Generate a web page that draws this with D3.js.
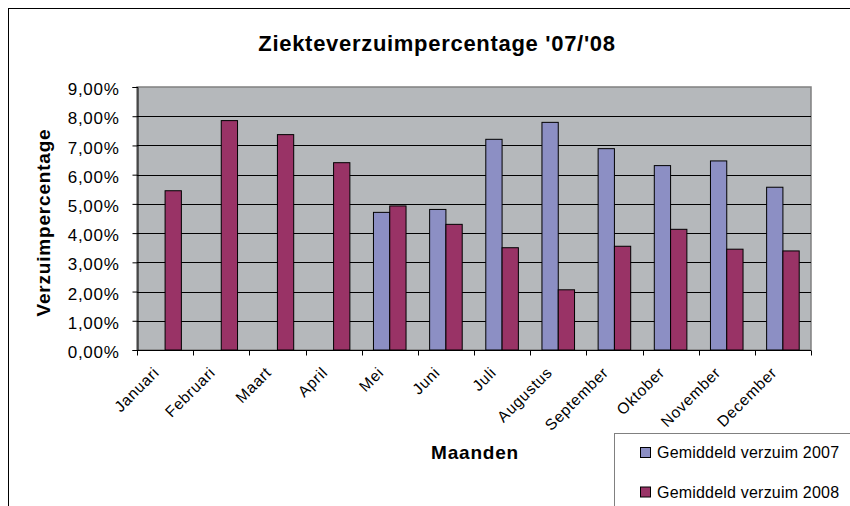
<!DOCTYPE html>
<html>
<head>
<meta charset="utf-8">
<script src="https://cdn.jsdelivr.net/npm/d3@7"></script>
<style>
  body { margin: 0; background: #fff; }
  text { font-family: "Liberation Sans", Arial, sans-serif; }
</style>
</head>
<body>
<div class="chart"></div>
<script>
var months = ["Januari", "Februari", "Maart", "April", "Mei", "Juni", "Juli", "Augustus", "September", "Oktober", "November", "December"];
var series = ["Gemiddeld verzuim 2007", "Gemiddeld verzuim 2008"];
var values2007 = [null, null, null, null, 4.71, 4.81, 7.21, 7.79, 6.89, 6.31, 6.47, 5.57];
var values2008 = [5.45, 7.85, 7.37, 6.41, 4.93, 4.30, 3.50, 2.06, 3.55, 4.13, 3.45, 3.39];
var yTicks = [0, 1, 2, 3, 4, 5, 6, 7, 8, 9];
var colors = ["#8c8fc4", "#993366"];

var width = 850, height = 506;
var plot = { left: 137, top: 87, right: 811, bottom: 350 };

var svg = d3.select(".chart").append("svg")
    .attr("width", width)
    .attr("height", height);

// chart frame (runs off the right / bottom like the screenshot)
svg.append("rect")
    .attr("x", 8.5).attr("y", 8.5)
    .attr("width", 860).attr("height", 520)
    .attr("fill", "#fff")
    .attr("stroke", "#000");

var x0 = d3.scaleBand()
    .domain(months)
    .range([plot.left, plot.right])
    .paddingInner(0.42)
    .paddingOuter(0.21);

var x1 = d3.scaleBand()
    .domain([0, 1])
    .range([0, x0.bandwidth()]);

var y = d3.scaleLinear()
    .domain([0, 9])
    .range([plot.bottom, plot.top]);

// plot area
svg.append("rect")
    .attr("x", plot.left).attr("y", plot.top)
    .attr("width", plot.right - plot.left)
    .attr("height", plot.bottom - plot.top)
    .attr("fill", "#b5b8bb")
    .attr("stroke", "#808080")
    .attr("stroke-width", 1.5);

// gridlines
svg.append("g").selectAll("line")
    .data(yTicks.filter(d => d > 0 && d < 9))
    .enter().append("line")
    .attr("x1", plot.left).attr("x2", plot.right)
    .attr("y1", d => Math.round(y(d)) + 0.5)
    .attr("y2", d => Math.round(y(d)) + 0.5)
    .attr("stroke", "#000")
    .attr("stroke-width", 1);

// bars
var rows = months.map((m, i) => ({ month: m, vals: [values2007[i], values2008[i]] }));

svg.append("g").selectAll("g")
    .data(rows)
    .enter().append("g")
    .attr("transform", d => "translate(" + x0(d.month) + ",0)")
    .selectAll("rect")
    .data(d => d.vals.map((v, k) => ({ k: k, v: v })).filter(d => d.v != null))
    .enter().append("rect")
    .attr("x", d => x1(d.k))
    .attr("y", d => y(d.v))
    .attr("width", x1.bandwidth())
    .attr("height", d => y(0) - y(d.v))
    .attr("fill", d => colors[d.k])
    .attr("stroke", "#000")
    .attr("stroke-width", 1);

// y axis
var yAxis = svg.append("g")
    .attr("transform", "translate(" + (plot.left + 0.5) + ",0)")
    .call(d3.axisLeft(y).tickValues(yTicks).tickSize(5).tickPadding(13)
        .tickFormat(d => d3.format(".2f")(d).replace(".", ",") + "%"));
yAxis.select(".domain").attr("stroke", "#000");
yAxis.selectAll("line").attr("stroke", "#000");
yAxis.selectAll("text")
    .attr("font-size", "17px")
    .attr("letter-spacing", "0.7px")
    .attr("dy", "0.45em")
    .attr("fill", "#000")
    .attr("font-family", "Liberation Sans, Arial, sans-serif");

// x axis
var xAxis = svg.append("g")
    .attr("transform", "translate(0," + (plot.bottom + 0.5) + ")");
xAxis.append("line")
    .attr("x1", plot.left).attr("x2", plot.right)
    .attr("stroke", "#000");
xAxis.selectAll(".tick")
    .data(d3.range(months.length + 1))
    .enter().append("line")
    .attr("x1", i => Math.round(plot.left + i * x0.step()) + 0.5)
    .attr("x2", i => Math.round(plot.left + i * x0.step()) + 0.5)
    .attr("y1", 0).attr("y2", 5)
    .attr("stroke", "#000");
xAxis.selectAll("text")
    .data(months)
    .enter().append("text")
    .attr("transform", d => "translate(" + (x0(d) + x0.bandwidth() / 2 - 5) + ",23) rotate(-45)")
    .attr("text-anchor", "end")
    .attr("font-size", "15.5px")
    .attr("letter-spacing", "0.7px")
    .text(d => d);

// titles
svg.append("text")
    .attr("x", 437).attr("y", 51)
    .attr("text-anchor", "middle")
    .attr("font-size", "22px")
    .attr("letter-spacing", "0.7px")
    .attr("font-weight", "bold")
    .text("Ziekteverzuimpercentage '07/'08");

svg.append("text")
    .attr("transform", "translate(50," + ((plot.top + plot.bottom) / 2 + 4) + ") rotate(-90)")
    .attr("text-anchor", "middle")
    .attr("font-size", "19px")
    .attr("letter-spacing", "0.8px")
    .attr("font-weight", "bold")
    .text("Verzuimpercentage");

svg.append("text")
    .attr("x", 475).attr("y", 459)
    .attr("text-anchor", "middle")
    .attr("font-size", "19px")
    .attr("letter-spacing", "0.8px")
    .attr("font-weight", "bold")
    .text("Maanden");

// legend
var legend = svg.append("g");
legend.append("rect")
    .attr("x", 614.5).attr("y", 433.5)
    .attr("width", 260).attr("height", 100)
    .attr("fill", "#fff")
    .attr("stroke", "#808080");

var items = legend.selectAll("g.item")
    .data(series)
    .enter().append("g")
    .attr("transform", (d, i) => "translate(640," + (458 + i * 39.5) + ")");
items.append("rect")
    .attr("x", 0.5).attr("y", -10.5)
    .attr("width", 10).attr("height", 10)
    .attr("fill", (d, i) => colors[i])
    .attr("stroke", "#000");
items.append("text")
    .attr("x", 17).attr("y", 0)
    .attr("font-size", "16px")
    .attr("letter-spacing", "0.2px")
    .text(d => d);
</script>
</body>
</html>
